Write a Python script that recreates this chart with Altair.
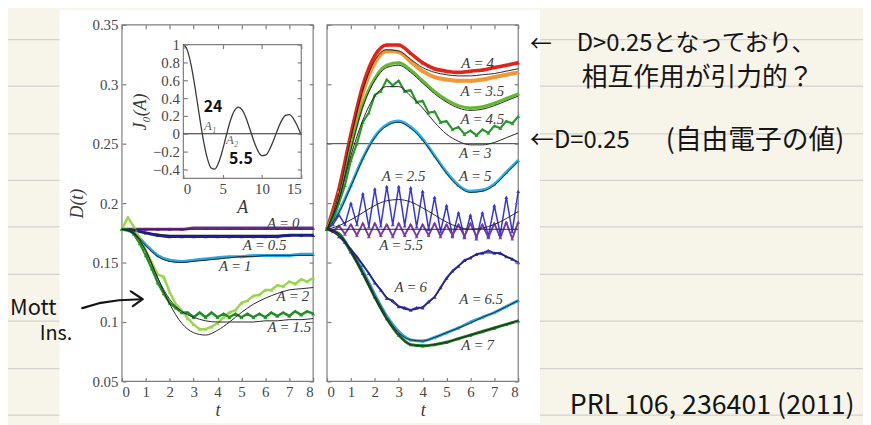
import altair as alt
import pandas as pd

W, H = 863, 417          # drawing area (page minus the 8px body margin)
M = 8

# ---------------- time grids ----------------
T_H = [0, 0.5, 1, 1.5, 2, 2.5, 3, 3.5, 4, 4.5, 5, 5.5, 6, 6.5, 7, 7.5, 8]
T_Q = [0, 0.25, 0.5, 0.75, 1, 1.25, 1.5, 1.75, 2, 2.25, 2.5, 2.75, 3, 3.25, 3.5, 3.75,
       4, 4.25, 4.5, 4.75, 5, 5.25, 5.5, 5.75, 6, 6.25, 6.5, 6.75, 7, 7.25, 7.5, 7.75, 8]
D_TICKS = [0.05, 0.1, 0.15, 0.2, 0.25, 0.3, 0.35]
T_TICKS = [0, 1, 2, 3, 4, 5, 6, 7, 8]

# ---------------- left panel: measured D(t) ----------------
L_A0 = [0.178, 0.178, 0.178, 0.178, 0.178, 0.178, 0.179, 0.179, 0.179, 0.179, 0.179, 0.179, 0.179, 0.179, 0.179, 0.179, 0.179]
L_A05 = [0.178, 0.177, 0.175, 0.173, 0.172, 0.172, 0.172, 0.172, 0.172, 0.172, 0.172, 0.172, 0.172, 0.172, 0.173, 0.173, 0.173]
L_A1 = [0.178, 0.175, 0.165, 0.156, 0.152, 0.151, 0.152, 0.153, 0.154, 0.155, 0.155, 0.156, 0.156, 0.156, 0.156, 0.157, 0.157]
L_A15 = [0.178, 0.178, 0.174, 0.166, 0.156, 0.145, 0.133, 0.124, 0.116, 0.112, 0.108, 0.108, 0.104, 0.108, 0.104, 0.108,
         0.104, 0.107, 0.104, 0.107, 0.104, 0.107, 0.104, 0.107, 0.104, 0.108, 0.105, 0.108, 0.105, 0.109, 0.106, 0.109, 0.107]
L_A2 = [0.178, 0.188, 0.180, 0.170, 0.160, 0.150, 0.140, 0.138, 0.125, 0.115, 0.110, 0.103, 0.098, 0.094, 0.094, 0.096,
        0.099, 0.104, 0.108, 0.110, 0.116, 0.118, 0.122, 0.123, 0.127, 0.127, 0.131, 0.130, 0.134, 0.132, 0.136, 0.134, 0.137]
# left panel: theory curves (thin black)
LT_A0 = [0.178, 0.178, 0.178, 0.178, 0.178, 0.178, 0.178, 0.178, 0.178, 0.178, 0.178, 0.178, 0.178, 0.178, 0.178, 0.178, 0.178]
LT_A05 = [0.178, 0.177, 0.175, 0.174, 0.173, 0.173, 0.173, 0.173, 0.173, 0.173, 0.173, 0.173, 0.173, 0.173, 0.173, 0.173, 0.173]
LT_A1 = [0.178, 0.175, 0.164, 0.155, 0.151, 0.150, 0.151, 0.152, 0.153, 0.154, 0.155, 0.155, 0.156, 0.156, 0.156, 0.156, 0.156]
LT_A15 = [0.178, 0.175, 0.160, 0.137, 0.119, 0.109, 0.104, 0.101, 0.100, 0.100, 0.100, 0.100, 0.101, 0.101, 0.102, 0.102, 0.103]
LT_A2 = [0.178, 0.174, 0.160, 0.137, 0.115, 0.099, 0.091, 0.089, 0.093, 0.100, 0.108, 0.115, 0.120, 0.124, 0.127, 0.128, 0.129]

# ---------------- right panel: measured D(t) ----------------
R_A4 = [0.178, 0.212, 0.258, 0.299, 0.324, 0.333, 0.333, 0.326, 0.318, 0.313, 0.311, 0.310, 0.311, 0.312, 0.314, 0.316, 0.318]
R_A35 = [0.178, 0.210, 0.254, 0.293, 0.318, 0.328, 0.327, 0.319, 0.311, 0.306, 0.304, 0.303, 0.303, 0.304, 0.306, 0.308, 0.310]
R_A45 = [0.178, 0.205, 0.247, 0.283, 0.305, 0.316, 0.318, 0.312, 0.303, 0.294, 0.287, 0.282, 0.280, 0.281, 0.284, 0.288, 0.292]
R_A3 = [0.178, 0.186, 0.200, 0.215, 0.236, 0.250, 0.268, 0.276, 0.291, 0.294, 0.304, 0.299, 0.303, 0.294, 0.295, 0.285,
        0.286, 0.276, 0.277, 0.268, 0.269, 0.262, 0.264, 0.258, 0.261, 0.257, 0.262, 0.259, 0.265, 0.263, 0.269, 0.267, 0.273]
R_A5 = [0.178, 0.193, 0.215, 0.238, 0.256, 0.266, 0.269, 0.264, 0.254, 0.240, 0.226, 0.215, 0.210, 0.211, 0.216, 0.226, 0.236]
R_A25 = [0.178, 0.182, 0.190, 0.182, 0.200, 0.182, 0.208, 0.180, 0.212, 0.181, 0.214, 0.182, 0.214, 0.181, 0.213, 0.180,
         0.210, 0.178, 0.205, 0.176, 0.198, 0.172, 0.192, 0.171, 0.190, 0.170, 0.192, 0.172, 0.198, 0.174, 0.205, 0.176, 0.210]
R_A55 = [0.178, 0.176, 0.181, 0.174, 0.182, 0.173, 0.183, 0.172, 0.183, 0.173, 0.182, 0.172, 0.183, 0.173, 0.182, 0.172,
         0.182, 0.173, 0.183, 0.172, 0.182, 0.173, 0.182, 0.172, 0.183, 0.172, 0.182, 0.171, 0.183, 0.171, 0.184, 0.170, 0.184]
R_A6 = [0.178, 0.177, 0.172, 0.167, 0.161, 0.155, 0.148, 0.141, 0.133, 0.127, 0.120, 0.118, 0.113, 0.112, 0.110, 0.112,
        0.112, 0.117, 0.121, 0.129, 0.137, 0.143, 0.147, 0.152, 0.154, 0.157, 0.158, 0.160, 0.158, 0.158, 0.155, 0.153, 0.150]
R_A65 = [0.178, 0.174, 0.160, 0.143, 0.123, 0.105, 0.092, 0.085, 0.084, 0.087, 0.091, 0.095, 0.100, 0.104, 0.108, 0.113, 0.118]
R_A7 = [0.178, 0.174, 0.159, 0.141, 0.121, 0.103, 0.089, 0.081, 0.080, 0.081, 0.083, 0.086, 0.089, 0.092, 0.095, 0.098, 0.101]
# right panel: theory curves
RT_A4 = [0.178, 0.208, 0.255, 0.295, 0.320, 0.329, 0.328, 0.321, 0.314, 0.310, 0.308, 0.307, 0.307, 0.308, 0.309, 0.311, 0.313]
RT_A45 = [0.178, 0.203, 0.245, 0.281, 0.303, 0.314, 0.316, 0.310, 0.301, 0.292, 0.285, 0.280, 0.278, 0.279, 0.282, 0.286, 0.290]
RT_A3 = [0.178, 0.203, 0.240, 0.270, 0.290, 0.298, 0.298, 0.290, 0.280, 0.268, 0.258, 0.252, 0.249, 0.249, 0.251, 0.255, 0.259]
RT_A5 = [0.178, 0.192, 0.214, 0.237, 0.255, 0.265, 0.268, 0.263, 0.253, 0.239, 0.225, 0.214, 0.209, 0.210, 0.215, 0.225, 0.235]
RT_A25 = [0.178, 0.181, 0.186, 0.192, 0.198, 0.202, 0.203, 0.201, 0.196, 0.190, 0.184, 0.180, 0.178, 0.179, 0.182, 0.187, 0.193]
RT_A55 = [0.178, 0.178, 0.178, 0.178, 0.178, 0.178, 0.178, 0.178, 0.178, 0.178, 0.178, 0.178, 0.178, 0.178, 0.178, 0.178, 0.178]
RT_A6 = [0.178, 0.172, 0.161, 0.148, 0.134, 0.121, 0.113, 0.110, 0.113, 0.121, 0.136, 0.147, 0.154, 0.158, 0.158, 0.155, 0.150]
RT_A65 = [0.178, 0.174, 0.160, 0.142, 0.122, 0.104, 0.091, 0.085, 0.084, 0.087, 0.091, 0.095, 0.099, 0.104, 0.108, 0.113, 0.118]
RT_A7 = [0.178, 0.174, 0.159, 0.140, 0.120, 0.102, 0.089, 0.081, 0.080, 0.081, 0.083, 0.086, 0.089, 0.092, 0.095, 0.098, 0.101]

# curve labels
L_LBL = ["A\u2009=\u20090", "A\u2009=\u20090.5", "A\u2009=\u20091", "A\u2009=\u20092", "A\u2009=\u20091.5"]
L_LBL_T = [6.75, 5.97, 4.74, 7.15, 7.0]
L_LBL_D = [0.183, 0.165, 0.147, 0.122, 0.096]
R_LBL = ["A\u2009=\u20094", "A\u2009=\u20093.5", "A\u2009=\u20094.5", "A\u2009=\u20093", "A\u2009=\u20092.5",
         "A\u2009=\u20095", "A\u2009=\u20095.5", "A\u2009=\u20096", "A\u2009=\u20096.5", "A\u2009=\u20097"]
R_LBL_T = [6.3, 6.5, 6.5, 6.2, 3.2, 6.2, 3.1, 3.5, 6.45, 6.3]
R_LBL_D = [0.3175, 0.294, 0.271, 0.242, 0.223, 0.223, 0.165, 0.129, 0.119, 0.081]

# ---------------- inset: J0(A) ----------------
INS_A = [0, 0.5, 1, 1.5, 2, 2.5, 3, 3.5, 4, 4.5, 5, 5.5, 6, 6.5, 7, 7.5, 8, 8.5, 9, 9.5, 10,
         10.5, 11, 11.5, 12, 12.5, 13, 13.5, 14, 14.5, 15]
INS_J = [1.0, 0.938, 0.765, 0.512, 0.224, -0.048, -0.260, -0.380, -0.397, -0.321, -0.178, -0.007, 0.151,
         0.260, 0.300, 0.266, 0.172, 0.042, -0.090, -0.194, -0.246, -0.237, -0.171, -0.068, 0.048, 0.147,
         0.207, 0.215, 0.171, 0.088, -0.014]
INS_XT = [0, 5, 10, 15]
INS_YT = [-0.4, -0.2, 0, 0.2, 0.4, 0.6, 0.8, 1]
INS_LBL = ["A\u2081", "A\u2082"]
INS_LBL_X = [3.4, 6.2]
INS_LBL_Y = [0.085, -0.075]

# ---------------- notebook page (page pixels) ----------------
RULE_Y = [38, 85, 133, 180, 227, 275, 322, 370, 417]
NOTE_TXT = ["\u2190", "D>0.25となっており、", "相互作用が引力的？", "\u2190D=0.25", "(自由電子の値)",
            "PRL\u00a0106,\u00a0236401\u00a0(2011)", "Mott", "Ins."]
NOTE_X = [535, 582, 587, 535, 672, 575, 10, 40]
NOTE_Y = [42, 42, 77, 140, 140, 408, 309, 335]
NOTE_FS = [22, 24, 26, 24, 27, 27, 22, 20]
HAND_TXT = ["24", "5.5"]
HAND_X = [215, 243]
HAND_Y = [106, 159]
ARROW_X = [83, 100, 120, 143]
ARROW_Y = [309, 304, 301, 300]
HEAD_X = [132, 144, 134]
HEAD_Y = [292, 300, 307]

# ---------------- helpers ----------------
PY0, PY1 = 375, 15          # plot rows of D=0.05 and D=0.35
LEFT_XR = [115, 308]
RIGHT_XR = [322, 515]
INS_XR = [177, 296]
INS_YR = [170, 35]
TICK = 4


def sc(domain, rng):
    return alt.Scale(domain=domain, range=rng, nice=False, zero=False)


def ax(**kw):
    return alt.Axis(zindex=2, domain=False, grid=False, **kw)


def long_df(spec):
    rows = []
    for name, color, tg, vals, sw in spec:
        for t, d in zip(tg, vals):
            rows.append({"series": name, "color": color, "t": t, "D": d, "sw": sw})
    return pd.DataFrame(rows)


def boxed(X, Y, xr, yr, xdom, ydom, xvals, yvals, xtitle, ytitle, labels_y, yfmt, title_pad_y):
    """Frame + labelled axes + inward ticks on all four sides."""
    fdf = pd.DataFrame({"x0": [xdom[0]], "x1": [xdom[1]], "y0": [ydom[0]], "y1": [ydom[1]]})
    lab_x = ax(orient="bottom", offset=yr[0] - H, values=xvals, title=xtitle, ticks=False,
               labelPadding=3, titlePadding=2)
    lab_y = ax(orient="left", offset=-xr[0], values=yvals, format=yfmt, labels=labels_y,
               title=ytitle, ticks=False, labelPadding=4, titlePadding=title_pad_y)
    frame = alt.Chart(fdf).mark_rect(fillOpacity=0, stroke="#7e7e7e", strokeWidth=1.2).encode(
        x=alt.X("x0:Q", scale=X, axis=lab_x), x2="x1:Q",
        y=alt.Y("y0:Q", scale=Y, axis=lab_y), y2="y1:Q")
    # inward ticks: bottom edge (top-orient axis), left edge (right-orient axis)
    t1 = alt.Chart(fdf).mark_rect(opacity=0).encode(
        x=alt.X("x0:Q", scale=X, axis=ax(orient="top", offset=-yr[0], values=xvals, labels=False,
                                         title="", tickSize=TICK)),
        x2="x1:Q",
        y=alt.Y("y0:Q", scale=Y, axis=ax(orient="right", offset=xr[0] - W, values=yvals,
                                         labels=False, title="", tickSize=TICK)),
        y2="y1:Q")
    # inward ticks: top edge (bottom-orient axis), right edge (left-orient axis)
    t2 = alt.Chart(fdf).mark_rect(opacity=0).encode(
        x=alt.X("x0:Q", scale=X, axis=ax(orient="bottom", offset=yr[1] - H, values=xvals,
                                         labels=False, title="", tickSize=TICK)),
        x2="x1:Q",
        y=alt.Y("y0:Q", scale=Y, axis=ax(orient="left", offset=-xr[1], values=yvals, labels=False,
                                         title="", tickSize=TICK)),
        y2="y1:Q")
    return [frame, t1, t2]


def panel(data_spec, theory_spec, lbl, lbl_t, lbl_d, xr, first, hline=False):
    X = sc([0, 8], xr)
    Y = sc([0.05, 0.35], [PY0, PY1])
    layers = boxed(X, Y, xr, [PY0, PY1], [0, 8], [0.05, 0.35], T_TICKS, D_TICKS, "t",
                   "D(t)" if first else "", first, ".2~f", 6)
    xe = alt.X("t:Q", scale=X, axis=None)
    ye = alt.Y("D:Q", scale=Y, axis=None)
    if hline:
        layers.append(alt.Chart(pd.DataFrame({"x0": [0], "x1": [8], "y": [0.25]})).mark_rule(
            color="#3a3a3a", strokeWidth=1
        ).encode(x=alt.X("x0:Q", scale=X, axis=None), x2="x1:Q",
                 y=alt.Y("y:Q", scale=Y, axis=None)))
    dd = long_df(data_spec)
    smooth = dd[dd["sw"] >= 2.6]
    rough = dd[dd["sw"] < 2.6]
    for part, interp in ((smooth, "monotone"), (rough, "linear")):
        layers.append(alt.Chart(part).mark_line(interpolate=interp, strokeJoin="round").encode(
            x=xe, y=ye, color=alt.Color("color:N", scale=None), detail="series:N",
            strokeWidth=alt.StrokeWidth("sw:Q", scale=None)))
    layers.append(alt.Chart(dd).mark_point(shape="triangle-up", filled=True, size=16, opacity=0.9).encode(
        x=xe, y=ye, color=alt.Color("color:N", scale=None)))
    layers.append(alt.Chart(long_df(theory_spec)).mark_line(
        color="#262626", strokeWidth=1, interpolate="monotone").encode(x=xe, y=ye, detail="series:N"))
    ldf = pd.DataFrame({"label": lbl, "t": lbl_t, "D": lbl_d})
    layers.append(alt.Chart(ldf).mark_text(font="Liberation Serif", fontStyle="italic", fontSize=15,
                                           color="#3c3c3c").encode(x=xe, y=ye, text="label:N"))
    return alt.layer(*layers).resolve_axis(x="independent", y="independent")


left = panel(
    [("A0", "#6b2d90", T_H, L_A0, 3.0), ("A05", "#1f1f9c", T_H, L_A05, 3.0),
     ("A1", "#2aa6de", T_H, L_A1, 3.0), ("A2", "#9ad64c", T_Q, L_A2, 2.5),
     ("A15", "#1f8f24", T_Q, L_A15, 2.5)],
    [("A0", "", T_H, LT_A0, 1), ("A05", "", T_H, LT_A05, 1), ("A1", "", T_H, LT_A1, 1),
     ("A15", "", T_H, LT_A15, 1), ("A2", "", T_H, LT_A2, 1)],
    L_LBL, L_LBL_T, L_LBL_D, LEFT_XR, True)

right = panel(
    [("A35", "#f39634", T_H, R_A35, 4.0), ("A4", "#e1231c", T_H, R_A4, 3.6),
     ("A45", "#62bb2c", T_H, R_A45, 3.0), ("A3", "#2c962c", T_Q, R_A3, 2.2),
     ("A5", "#2bafe6", T_H, R_A5, 3.0), ("A25", "#3535e0", T_Q, R_A25, 1.5),
     ("A55", "#7a3aa6", T_Q, R_A55, 1.9), ("A6", "#2a2ad2", T_Q, R_A6, 2.0),
     ("A65", "#2fa6e0", T_H, R_A65, 3.0), ("A7", "#1b7a1f", T_H, R_A7, 3.0)],
    [("A4", "", T_H, RT_A4, 1), ("A45", "", T_H, RT_A45, 1), ("A3", "", T_H, RT_A3, 1),
     ("A5", "", T_H, RT_A5, 1), ("A25", "", T_H, RT_A25, 1), ("A55", "", T_H, RT_A55, 1),
     ("A6", "", T_H, RT_A6, 1), ("A65", "", T_H, RT_A65, 1), ("A7", "", T_H, RT_A7, 1)],
    R_LBL, R_LBL_T, R_LBL_D, RIGHT_XR, False, hline=True)

# ---------------- inset ----------------
IX = sc([0, 15], INS_XR)
IY = sc([-0.5, 1], INS_YR)
ins_layers = boxed(IX, IY, INS_XR, INS_YR, [0, 15], [-0.5, 1], INS_XT, INS_YT, "A",
                   "J\u2080(A)", True, "~g", 3)
ins_layers.append(alt.Chart(pd.DataFrame({"x0": [0], "x1": [15], "y": [0]})).mark_rule(
    color="#2a2a2a", strokeWidth=1.1
).encode(x=alt.X("x0:Q", scale=IX, axis=None), x2="x1:Q", y=alt.Y("y:Q", scale=IY, axis=None)))
ins_layers.append(alt.Chart(pd.DataFrame({"A": INS_A, "J": INS_J})).mark_line(
    color="#3a3a3a", strokeWidth=1.3, interpolate="monotone"
).encode(x=alt.X("A:Q", scale=IX, axis=None), y=alt.Y("J:Q", scale=IY, axis=None)))
ins_layers.append(alt.Chart(pd.DataFrame({"l": INS_LBL, "x": INS_LBL_X, "y": INS_LBL_Y})).mark_text(
    font="Liberation Serif", fontStyle="italic", fontSize=13, color="#666666"
).encode(x=alt.X("x:Q", scale=IX, axis=None), y=alt.Y("y:Q", scale=IY, axis=None), text="l:N"))
inset = alt.layer(*ins_layers).resolve_axis(x="independent", y="independent")

# ---------------- notebook page layers ----------------
PXS = sc([M, M + W], [0, W])
PYS = sc([M, M + H], [0, H])
px = lambda f: alt.X(f, scale=PXS, axis=None)
py = lambda f: alt.Y(f, scale=PYS, axis=None)

screen = alt.Chart(pd.DataFrame({"x0": [60], "x1": [545], "y0": [8], "y1": [425]})).mark_rect(
    color="#ffffff").encode(x=px("x0:Q"), x2="x1:Q", y=py("y0:Q"), y2="y1:Q")
rules_df = pd.DataFrame(
    [{"x0": 0, "x1": 60, "y": y} for y in RULE_Y] + [{"x0": 545, "x1": 871, "y": y} for y in RULE_Y])
rules = alt.Chart(rules_df).mark_rule(color="#d2d2cf", strokeWidth=1.3).encode(
    x=px("x0:Q"), x2="x1:Q", y=py("y:Q"))
page_bg = alt.layer(screen, rules)

notes = alt.Chart(pd.DataFrame({"txt": NOTE_TXT, "x": NOTE_X, "y": NOTE_Y, "fs": NOTE_FS})).mark_text(
    font="Noto Sans CJK JP", align="left", baseline="middle", color="#151515"
).encode(x=px("x:Q"), y=py("y:Q"), text="txt:N", size=alt.Size("fs:Q", scale=None))
hand = alt.Chart(pd.DataFrame({"txt": HAND_TXT, "x": HAND_X, "y": HAND_Y})).mark_text(
    font="Noto Sans CJK JP", fontWeight="bold", fontSize=16, color="#111111"
).encode(x=px("x:Q"), y=py("y:Q"), text="txt:N")
arrow_df = pd.DataFrame(
    [{"part": "shaft", "i": i, "x": x, "y": y} for i, (x, y) in enumerate(zip(ARROW_X, ARROW_Y))]
    + [{"part": "head", "i": i, "x": x, "y": y} for i, (x, y) in enumerate(zip(HEAD_X, HEAD_Y))])
arrow = alt.Chart(arrow_df).mark_line(color="#151515", strokeWidth=2.2, strokeCap="round",
                                      strokeJoin="round").encode(
    x=px("x:Q"), y=py("y:Q"), detail="part:N", order="i:Q")
page_fg = alt.layer(notes, hand, arrow)

chart = alt.layer(page_bg, left, right, inset, page_fg).resolve_scale(
    x="independent", y="independent"
).properties(
    width=W, height=H, autosize=alt.AutoSizeParams(type="none"), padding=0
).configure(background="#f7f4e9").configure_view(strokeWidth=0).configure_axis(
    labelFont="Liberation Serif", labelFontSize=15, labelColor="#474747",
    titleFont="Liberation Serif", titleFontSize=18, titleFontStyle="italic",
    titleFontWeight="normal", titleColor="#3a3a3a", tickColor="#7e7e7e", tickWidth=1.2
)

chart.save("out.html", embed_options={"renderer": "svg", "actions": False})
